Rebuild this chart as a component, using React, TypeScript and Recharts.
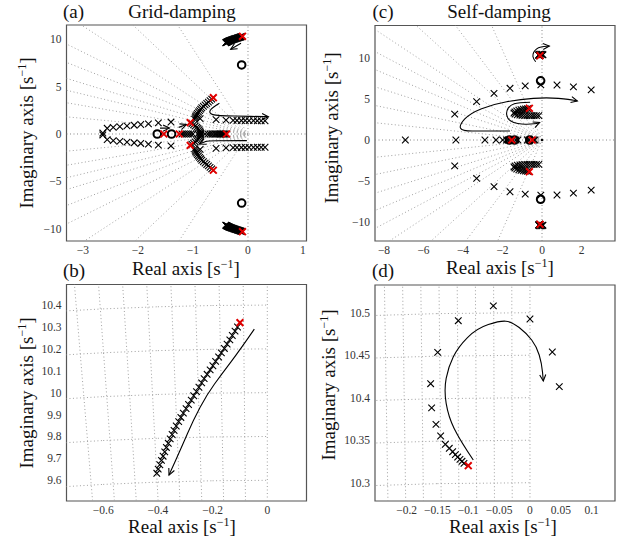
import React from 'react';
import { ScatterChart, Scatter, XAxis, YAxis, ReferenceLine, ReferenceArea } from 'recharts';

const SERIF = "'Liberation Serif', 'DejaVu Serif', serif";
const GRID = '#a0a0a0';
const RED = '#e00000';

// pole that every branch starts from (upper / lower is its conjugate)
const topPoleRe = -0.1;
const topPoleIm = 10.32;

// grid-damping branch near +j10.3 (panel b, also drawn in a)
const gdRe = [-0.109, -0.118, -0.128, -0.137, -0.147, -0.157, -0.168, -0.178, -0.189, -0.199, -0.209, -0.22, -0.231, -0.24, -0.25, -0.259, -0.269, -0.278, -0.288, -0.297, -0.307, -0.316, -0.324, -0.333, -0.341, -0.348, -0.355, -0.362, -0.369, -0.375, -0.381, -0.387, -0.393, -0.399, -0.404];
const gdIm = [10.3, 10.281, 10.261, 10.241, 10.222, 10.202, 10.182, 10.163, 10.143, 10.123, 10.104, 10.084, 10.064, 10.045, 10.025, 10.005, 9.986, 9.966, 9.946, 9.927, 9.907, 9.887, 9.868, 9.848, 9.828, 9.809, 9.789, 9.769, 9.75, 9.73, 9.71, 9.691, 9.671, 9.651, 9.632];

// self-damping branch near +j10.3 (panel d, also drawn in c)
const sdRe = [-0.107, -0.1102, -0.1135, -0.1172, -0.121, -0.1253, -0.1308, -0.1372, -0.1448, -0.1524, -0.1594, -0.161, -0.1496, -0.1162, -0.0594, 0.0, 0.0362, 0.0475];
const sdIm = [10.3228, 10.3252, 10.3275, 10.3302, 10.333, 10.3365, 10.3405, 10.3452, 10.355, 10.3687, 10.388, 10.4165, 10.4534, 10.4906, 10.508, 10.4926, 10.4538, 10.413];

// (a) grid-damping, whole plane
const aRedRe = [-0.63, -0.63, -1.05, -1.05, -1.53, -1.25, -0.39];
const aRedIm = [3.83, -3.83, 1.2, -1.2, 0, 0, 0];
const aZeroRe = [-0.115, -0.115, -1.65, -1.39];
const aZeroIm = [7.29, -7.29, 0, 0];
const aOutRe = [-2.64, -2.56, -2.45, -2.33, -2.2, -2.07, -1.95, -1.81, -1.63, -1.4];
const aOutIm = [0.1, 0.6, 0.7, 0.78, 0.86, 0.93, 1.0, 1.07, 1.17, 1.26];
const aArcRe = [-0.66, -0.69, -0.72, -0.75, -0.78, -0.81, -0.84, -0.86, -0.88, -0.9, -0.92, -0.935, -0.95, -0.96, -0.97];
const aArcIm = [3.68, 3.52, 3.37, 3.22, 3.07, 2.92, 2.77, 2.62, 2.47, 2.32, 2.17, 2.02, 1.87, 1.72, 1.57];
const aBowRe = [-1.02, -0.99, -0.96, -0.93, -0.91, -0.89, -0.875, -0.865, -0.86];
const aBowIm = [1.08, 0.96, 0.84, 0.71, 0.58, 0.45, 0.32, 0.19, 0.06];
const aAxRe = [-1.2, -1.16, -1.12, -1.08, -1.04, -1.0, -0.78, -0.73, -0.69, -0.65, -0.61, -0.58, -0.55, -0.52, -0.5, -0.48, -0.46, -0.44, -0.42, -0.4];
const aRowRe = [-0.87, -0.58, -0.4, -0.27, -0.2, -0.12, -0.05, 0.02, 0.1, 0.17, 0.24, 0.31];
const aRowIm = [1.62, 1.52, 1.46, 1.44, 1.43, 1.42, 1.42, 1.41, 1.41, 1.4, 1.4, 1.4];
const aArr1Re = [-0.127, -0.22, -0.315];
const aArr1Im = [9.58, 9.27, 8.94];
const aArr2Re = [-0.52, -0.6, -0.67, -0.7, -0.68, -0.6, -0.4, -0.1, 0.2, 0.37];
const aArr2Im = [3.24, 2.95, 2.65, 2.36, 2.12, 1.97, 1.92, 1.88, 1.85, 1.83];
const aArr3Re = [-0.02, -0.4, -0.74, -0.8, -0.88];
const aArr3Im = [-0.7, -0.7, -0.72, -0.85, -1.05];
const aArr4Re = [-1.6, -1.43];
const aArr4Im = [0.62, 0.62];
const aArr5Re = [-1.26, -1.12];
const aArr5Im = [0.7, 1.0];

// (b) arrow
const bArrRe = [-0.0475, -0.0998, -0.1645, -0.2216, -0.2706, -0.313, -0.3594];
const bArrIm = [10.29, 10.195, 10.089, 9.99, 9.875, 9.753, 9.624];

// (c) self-damping, whole plane
const cRedRe = [-0.64, -0.64, -1.53, -0.5];
const cRedIm = [3.88, -3.88, 0, 0];
const cZeroRe = [-0.07, -0.07, -1.65, -1.39, -0.62];
const cZeroIm = [7.25, -7.25, 0, 0, 0];
const cAxRe = [-6.92, -4.36, -2.89, -2.33, -1.99, -1.8, -1.72, -1.6, -1.46, -1.32, -1.22, -0.74, -0.66, -0.42, -0.36];
const cOutRe = [-4.42, -3.31, -2.43, -1.62, -0.85, -0.06, 0.76, 1.59, 2.49];
const cOutIm = [3.16, 4.69, 5.71, 6.33, 6.63, 6.75, 6.73, 6.5, 6.14];
const cClRe = [-0.74, -0.84, -0.95, -1.06, -1.17, -1.28, -1.37, -1.42, -1.36, -1.25, -1.12, -1.0, -0.88, -0.76, -0.64, -0.52, -0.4, -0.28, -0.16];
const cClIm = [3.84, 3.8, 3.76, 3.71, 3.64, 3.55, 3.44, 3.3, 3.16, 3.08, 3.04, 3.02, 3.0, 2.99, 2.99, 2.98, 2.98, 2.98, 2.98];
const cArr1Re = [-0.32, -0.45, -0.47, -0.38, -0.19, 0.1, 0.37];
const cArr1Im = [9.58, 10.0, 10.45, 10.95, 11.3, 11.45, 11.5];
const cArr2Re = [-1.62, -3.0, -4.07, -4.19, -3.65, -2.47, -1.11, 0.24, 1.42, 1.79];
const cArr2Im = [1.1, 1.1, 1.1, 1.84, 3.27, 4.4, 4.98, 5.22, 4.98, 4.77];
const cArr3Re = [-0.6, -1.2, -1.6, -1.82, -1.75, -1.45, -1.0, -0.55, -0.25, -0.12];
const cArr3Im = [4.62, 4.58, 4.3, 3.5, 2.6, 2.1, 1.92, 1.95, 2.02, 2.15];

// (d) arrow
const dArrRe = [-0.0919, -0.1135, -0.1323, -0.1394, -0.1323, -0.1162, -0.0864, -0.0486, -0.0297, -0.0053, 0.0109, 0.019, 0.0216];
const dArrIm = [10.3267, 10.35, 10.3777, 10.409, 10.4365, 10.46, 10.4816, 10.4906, 10.4894, 10.4757, 10.46, 10.4405, 10.4196];

// ticks
const aXTicks = [-3, -2, -1, 0, 1];
const aYTicks = [-10, -5, 0, 5, 10];
const bXTicks = [-0.6, -0.4, -0.2, 0];
const bYTicks = [9.6, 9.7, 9.8, 9.9, 10, 10.1, 10.2, 10.3, 10.4];
const cXTicks = [-8, -6, -4, -2, 0, 2];
const cYTicks = [-10, -5, 0, 5, 10];
const dXTicks = [-0.2, -0.15, -0.1, -0.05, 0, 0.05, 0.1];
const dYTicks = [10.3, 10.35, 10.4, 10.45, 10.5];

// s-plane grid (damping lines, natural-frequency rings)
const aSlopes = [0.55, 1.0, 1.4, 1.78, 2.29, 2.88, 3.8, 5.5, 9.0];
const cSlopes = [0.25, 0.5, 0.77, 1.02, 1.28, 1.6, 2.2, 3.2, 5.5];
const bLean = [0.0084, 0.0168, 0.0252, 0.0336, 0.042, 0.0504, 0.0588, 0.0672];
const dLean = [0.0028, 0.0056, 0.0084, 0.0112, 0.014, 0.0168, 0.0196, 0.0224];
const bRings = [9.6, 9.8, 10, 10.2, 10.4];
const dRings = [10.3, 10.35, 10.4, 10.45, 10.5];

type Pt = { x: number; y: number };
const pts = (re: number[], im: number[], sg = 1): Pt[] => re.map((r, i) => ({ x: r, y: sg * im[i] }));
const onAxis = (re: number[]): Pt[] => re.map((r) => ({ x: r, y: 0 }));

const cross = (color: string, w: number, s: number) => (p: any) => (
  <path
    d={`M${p.cx - s},${p.cy - s}L${p.cx + s},${p.cy + s}M${p.cx - s},${p.cy + s}L${p.cx + s},${p.cy - s}`}
    stroke={color}
    strokeWidth={w}
    fill="none"
  />
);
const ring = (p: any) => <circle cx={p.cx} cy={p.cy} r={3.8} stroke="#000" strokeWidth={2} fill="none" />;
const dot = (p: any) => <circle cx={p.cx} cy={p.cy} r={1.2} fill="#000" />;
const none = () => <g />;

const arrowLine = (lp: any) => {
  const q: Pt[] = lp.points || [];
  if (q.length < 2) return <g />;
  let d = `M${q[0].x},${q[0].y}`;
  for (let i = 1; i < q.length - 1; i++) {
    const mx = (q[i].x + q[i + 1].x) / 2;
    const my = (q[i].y + q[i + 1].y) / 2;
    d += `Q${q[i].x},${q[i].y} ${mx},${my}`;
  }
  const a = q[q.length - 1];
  const b = q.length > 2 ? { x: (q[q.length - 2].x + a.x) / 2, y: (q[q.length - 2].y + a.y) / 2 } : q[0];
  d += `L${a.x},${a.y}`;
  const ang = Math.atan2(a.y - b.y, a.x - b.x);
  const L = 7;
  const h = 0.45;
  const p1 = `${a.x - L * Math.cos(ang - h)},${a.y - L * Math.sin(ang - h)}`;
  const p2 = `${a.x - L * Math.cos(ang + h)},${a.y - L * Math.sin(ang + h)}`;
  return (
    <g>
      <path d={d} fill="none" stroke="#000" strokeWidth={1.1} />
      <path d={`M${p1}L${a.x},${a.y}L${p2}`} fill="none" stroke="#000" strokeWidth={1.1} />
    </g>
  );
};

type S = { d: Pt[]; shape: any; line?: any };
const series = (list: S[]) =>
  list.map((s, i) => (
    <Scatter key={'s' + i} data={s.d} shape={s.shape} line={s.line} isAnimationActive={false} />
  ));

const DOT = { stroke: GRID, strokeDasharray: '1 2.5', strokeWidth: 1 };

const radial = (slopes: number[]) =>
  slopes.flatMap((s, i) =>
    [1, -1].map((sg) => (
      <ReferenceLine key={`r${i}_${sg}`} segment={[{ x: 0, y: 0 }, { x: -50, y: sg * 50 * s }]} ifOverflow="hidden" {...DOT} />
    ))
  );
const axesLines = [
  <ReferenceLine key="ax" x={0} ifOverflow="hidden" stroke="#888" strokeDasharray="1 2.5" />,
  <ReferenceLine key="ay" y={0} ifOverflow="hidden" stroke="#888" strokeDasharray="1 2.5" />,
];
const lean = (ls: number[], y0: number, y1: number) => [
  <ReferenceLine key="l0" x={0} ifOverflow="hidden" {...DOT} />,
  ...ls.map((s, i) => (
    <ReferenceLine key={'l' + (i + 1)} segment={[{ x: -s * y0, y: y0 }, { x: -s * y1, y: y1 }]} ifOverflow="hidden" {...DOT} />
  )),
];
const rings = (rs: number[], xs: number[]) =>
  rs.flatMap((r, i) =>
    xs.slice(1).map((x, j) => {
      const xa = xs[j];
      return (
        <ReferenceLine
          key={`c${i}_${j}`}
          segment={[{ x: xa, y: Math.sqrt(r * r - xa * xa) }, { x, y: Math.sqrt(r * r - x * x) }]}
          ifOverflow="hidden"
          {...DOT}
        />
      );
    })
  );

const fmt = (v: number) => String(v).replace('-', '\u2212');
const xTick = (p: any) => (
  <text x={p.x} y={p.y} dy={9} textAnchor="middle" fontSize={11.5} fill="#333" fontFamily={SERIF}>
    {fmt(p.payload.value)}
  </text>
);
const yTick = (p: any) => (
  <text x={p.x} y={p.y} dy={4} textAnchor="end" fontSize={11.5} fill="#333" fontFamily={SERIF}>
    {fmt(p.payload.value)}
  </text>
);

type PanelProps = {
  left: number;
  top: number;
  padL: number;
  padT: number;
  padR: number;
  xd: [number, number];
  yd: [number, number];
  xt: number[];
  yt: number[];
  children: React.ReactNode;
};

function Panel({ left, top, padL, padT, padR, xd, yd, xt, yt, children }: PanelProps) {
  return (
    <div style={{ position: 'absolute', left, top }}>
      <ScatterChart width={310} height={270} margin={{ top: padT, right: padR, bottom: 0, left: 0 }}>
        <XAxis
          type="number"
          dataKey="x"
          domain={xd}
          ticks={xt}
          allowDataOverflow
          interval={0}
          axisLine={false}
          tickLine={false}
          tickSize={0}
          tickMargin={4}
          height={29}
          tick={xTick}
        />
        <YAxis
          type="number"
          dataKey="y"
          domain={yd}
          ticks={yt}
          allowDataOverflow
          interval={0}
          axisLine={false}
          tickLine={false}
          tickSize={0}
          tickMargin={5}
          width={padL}
          tick={yTick}
        />
        {children}
        <ReferenceArea x1={xd[0]} x2={xd[1]} y1={yd[0]} y2={yd[1]} ifOverflow="visible" fill="none" stroke="#555" strokeWidth={1.2} />
      </ScatterChart>
    </div>
  );
}

const blackX = cross('#000', 1.1, 3.3);
const redX = cross(RED, 2, 3.4);
const top = [{ x: topPoleRe, y: topPoleIm }, { x: topPoleRe, y: -topPoleIm }];

const Sup = () => (
  <>
    [s<tspan dy={-7} fontSize={12}>{'\u22121'}</tspan>
    <tspan dy={7}>]</tspan>
  </>
);

function Labels() {
  const realLab = (cx: number, by: number) => (
    <text x={cx} y={by} textAnchor="middle" fontSize={19}>
      Real axis <Sup />
    </text>
  );
  const imLab = (bx: number, cy: number) => (
    <text transform={`translate(${bx},${cy}) rotate(-90)`} textAnchor="middle" fontSize={19}>
      Imaginary axis <Sup />
    </text>
  );
  return (
    <svg width={619} height={541} style={{ position: 'absolute', left: 0, top: 0, pointerEvents: 'none' }} fontFamily={SERIF} fill="#111">
      <text x={63} y={18} fontSize={19}>(a)</text>
      <text x={182} y={18} fontSize={19} textAnchor="middle">Grid-damping</text>
      <text x={372.5} y={18} fontSize={19}>(c)</text>
      <text x={499} y={18} fontSize={19} textAnchor="middle">Self-damping</text>
      <text x={63} y={277} fontSize={19}>(b)</text>
      <text x={372} y={277} fontSize={19}>(d)</text>
      {realLab(186, 275)}
      {realLab(500, 274)}
      {realLab(182, 533)}
      {realLab(503, 533)}
      {imLab(33, 133)}
      {imLab(33, 393)}
      {imLab(338, 128)}
      {imLab(335, 385)}
    </svg>
  );
}

export default function App() {
  return (
    <div style={{ position: 'absolute', left: 0, top: 0, width: 619, height: 541, background: '#fff', fontFamily: SERIF }}>
      <Panel left={0} top={0} padL={66.5} padT={25} padR={3.5} xd={[-3.3, 1.064]} yd={[-11.3, 11.51]} xt={aXTicks} yt={aYTicks}>
        {radial(aSlopes)}
        {axesLines}
        {series([
          { d: pts(aArr1Re, aArr1Im), shape: none, line: arrowLine },
          { d: pts(aArr2Re, aArr2Im), shape: none, line: arrowLine },
          { d: pts(aArr3Re, aArr3Im), shape: none, line: arrowLine },
          { d: pts(aArr4Re, aArr4Im), shape: none, line: arrowLine },
          { d: pts(aArr5Re, aArr5Im), shape: none, line: arrowLine },
          { d: pts(gdRe, gdIm), shape: blackX },
          { d: pts(gdRe, gdIm, -1), shape: blackX },
          { d: pts(aOutRe, aOutIm), shape: blackX },
          { d: pts(aOutRe, aOutIm, -1), shape: blackX },
          { d: pts(aArcRe, aArcIm), shape: blackX },
          { d: pts(aArcRe, aArcIm, -1), shape: blackX },
          { d: pts(aBowRe, aBowIm), shape: blackX },
          { d: pts(aBowRe, aBowIm, -1), shape: blackX },
          { d: onAxis(aAxRe), shape: blackX },
          { d: pts(aRowRe, aRowIm), shape: blackX },
          { d: pts(aRowRe, aRowIm, -1), shape: blackX },
          { d: pts(aZeroRe, aZeroIm), shape: ring },
          { d: top, shape: redX },
          { d: pts(aRedRe, aRedIm), shape: redX },
        ])}
      </Panel>

      <Panel left={309} top={0} padL={66} padT={25.5} padR={4} xd={[-8.456, 3.696]} yd={[-12.362, 14.015]} xt={cXTicks} yt={cYTicks}>
        {radial(cSlopes)}
        {axesLines}
        {series([
          { d: pts(cArr1Re, cArr1Im), shape: none, line: arrowLine },
          { d: pts(cArr2Re, cArr2Im), shape: none, line: arrowLine },
          { d: pts(cArr3Re, cArr3Im), shape: none, line: arrowLine },
          { d: pts(sdRe, sdIm), shape: blackX },
          { d: pts(sdRe, sdIm, -1), shape: blackX },
          { d: onAxis(cAxRe), shape: blackX },
          { d: pts(cOutRe, cOutIm), shape: blackX },
          { d: pts(cOutRe, cOutIm, -1), shape: blackX },
          { d: pts(cClRe, cClIm), shape: blackX },
          { d: pts(cClRe, cClIm, -1), shape: blackX },
          { d: pts(cZeroRe, cZeroIm), shape: ring },
          { d: onAxis([0]), shape: dot },
          { d: top, shape: redX },
          { d: pts(cRedRe, cRedIm), shape: redX },
        ])}
      </Panel>

      <Panel left={0} top={260} padL={66.5} padT={24.5} padR={3.5} xd={[-0.7342, 0.1433]} yd={[9.5055, 10.494]} xt={bXTicks} yt={bYTicks}>
        {lean(bLean, 9.3, 10.7)}
        {rings(bRings, [-0.8, -0.6, -0.4, -0.2, 0])}
        {series([
          { d: pts(bArrRe, bArrIm), shape: none, line: arrowLine },
          { d: pts(gdRe, gdIm), shape: blackX },
          { d: [top[0]], shape: redX },
        ])}
      </Panel>

      <Panel left={309} top={260} padL={66} padT={25} padR={4} xd={[-0.2512, 0.1378]} yd={[10.2785, 10.5326]} xt={dXTicks} yt={dYTicks}>
        {lean(dLean, 10.2, 10.6)}
        {rings(dRings, [-0.3, -0.15, 0])}
        {series([
          { d: pts(dArrRe, dArrIm), shape: none, line: arrowLine },
          { d: pts(sdRe, sdIm), shape: blackX },
          { d: [top[0]], shape: redX },
        ])}
      </Panel>

      <Labels />
    </div>
  );
}
